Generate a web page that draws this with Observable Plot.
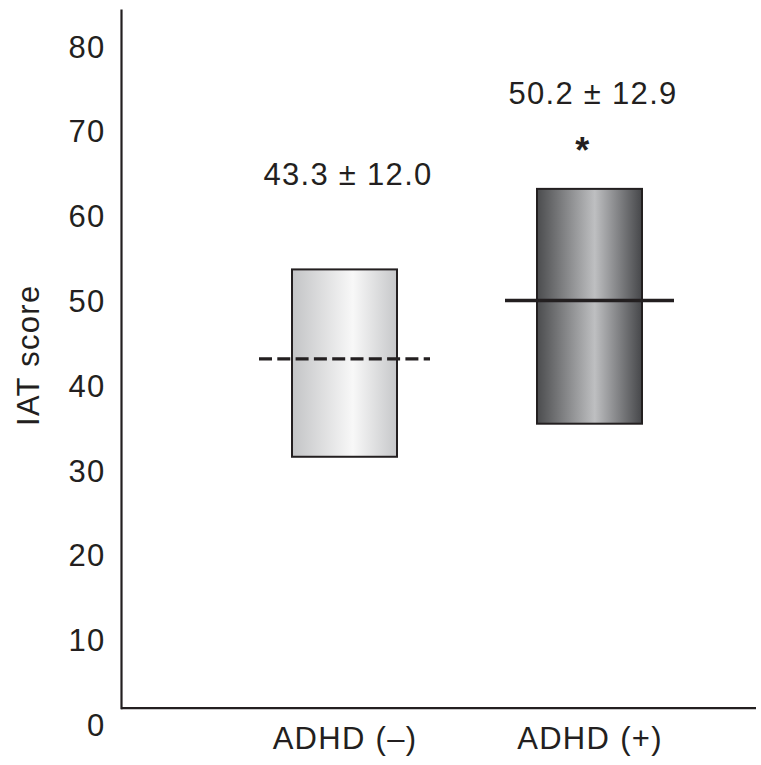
<!DOCTYPE html>
<html>
<head>
<meta charset="utf-8">
<script src="https://cdn.jsdelivr.net/npm/d3@7"></script>
<script src="https://cdn.jsdelivr.net/npm/@observablehq/plot@0.6"></script>
<style>
  html, body { margin: 0; padding: 0; background: #fff; }
</style>
</head>
<body>
<div id="chart"></div>
<script>
// ---- data ----
const groups = ["ADHD (–)", "ADHD (+)"];
const means = [43.3, 50.2];
const sds = [12.0, 12.9];
const boxLow = [31.7, 35.6];
const boxHigh = [53.8, 63.3];
const significance = ["", "*"];
const yTicks = [0, 10, 20, 30, 40, 50, 60, 70, 80];
const yLabel = "IAT score";
const axisFloor = 2.1;   // value where the drawn baseline sits
const yTop = 84.4;       // top of the drawn y axis line

const rows = groups.map((g, i) => ({
  group: g,
  mean: means[i],
  sd: sds[i],
  lo: boxLow[i],
  hi: boxHigh[i],
  sig: significance[i],
  label: `${means[i].toFixed(1)} ± ${sds[i].toFixed(1)}`
}));

const ink = "#231f20";
const gradIds = ["gradLight", "gradDark"];

const W = 761, H = 765;
const svg = Plot.plot({
  width: W,
  height: H,
  marginLeft: 121,
  marginRight: 5,
  marginTop: 10,
  marginBottom: 39.5,
  style: {fontFamily: "'Liberation Sans', Arial, Helvetica, sans-serif", fontSize: "31px", color: ink, background: "#fff", letterSpacing: "1.3px"},
  x: {domain: groups, paddingInner: 0.5714, paddingOuter: 0.5816, align: 0.6, label: null},
  y: {domain: [0, yTop], label: null},
  color: {type: "identity"},
  marks: [
    Plot.axisY({ticks: yTicks, tickSize: 0, tickPadding: 16, label: null, fontSize: 31}),
    Plot.axisX({tickSize: 0, tickPadding: 0.5, label: null, fontSize: 31}),
    Plot.text([yLabel], {frameAnchor: "left", textAnchor: "middle", rotate: -90, dx: -92.5, dy: -13, fontSize: 31, fill: ink}),
    Plot.ruleY([axisFloor], {stroke: ink, strokeWidth: 2.2}),
    Plot.frame({anchor: "left", insetBottom: (725.5 - 10) * axisFloor / yTop, stroke: ink, strokeWidth: 2.2}),
    Plot.barY(rows, {x: "group", y1: "lo", y2: "hi", fill: (d) => `url(#${gradIds[groups.indexOf(d.group)]})`, stroke: ink, strokeWidth: 2}),
    Plot.tickY(rows.filter(d => d.group === groups[0]), {x: "group", y: "mean", stroke: ink, strokeWidth: 3.4, strokeDasharray: "13,5.3", insetLeft: -33, insetRight: -33}),
    Plot.tickY(rows.filter(d => d.group === groups[1]), {x: "group", y: "mean", stroke: ink, strokeWidth: 3.6, insetLeft: -32, insetRight: -32}),
    Plot.text(rows, {x: "group", y: "hi", text: "label", dy: -85, dx: 3, lineAnchor: "bottom", fontSize: 31, fill: ink}),
    Plot.text(rows.filter(d => d.sig), {x: "group", y: "hi", text: "sig", dy: -26, dx: -7, lineAnchor: "bottom", fontSize: 36, fontWeight: "bold", fill: ink})
  ]
});

svg.insertAdjacentHTML("afterbegin", `
<defs>
  <linearGradient id="gradLight" x1="0" x2="1" y1="0" y2="0">
    <stop offset="0" stop-color="#c3c4c6"/>
    <stop offset="0.58" stop-color="#f8f8f8"/>
    <stop offset="1" stop-color="#c6c7c9"/>
  </linearGradient>
  <linearGradient id="gradDark" x1="0" x2="1" y1="0" y2="0">
    <stop offset="0" stop-color="#4b4c4e"/>
    <stop offset="0.55" stop-color="#bebfc1"/>
    <stop offset="1" stop-color="#46474a"/>
  </linearGradient>
</defs>`);

document.getElementById("chart").appendChild(svg);
</script>
</body>
</html>
